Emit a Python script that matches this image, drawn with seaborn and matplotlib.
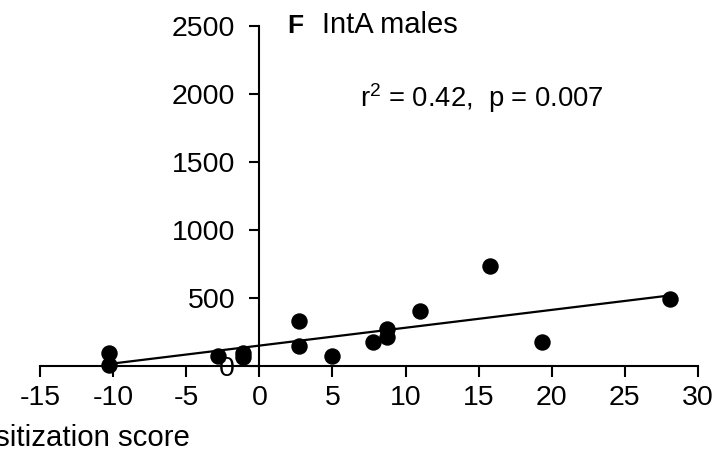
import matplotlib
matplotlib.use("Agg")
import matplotlib.pyplot as plt
import seaborn as sns
import pandas as pd

sens_score = [-10.3, -10.3, -2.8, -1.1, -1.1, 2.7, 2.7, 5.0, 7.8, 8.7, 8.7, 11.0, 15.8, 19.3, 28.1]
response = [95, 10, 75, 95, 65, 330, 145, 75, 175, 270, 215, 405, 735, 175, 490]
x_ticks = [-15, -10, -5, 0, 5, 10, 15, 20, 25, 30]
y_ticks = [0, 500, 1000, 1500, 2000, 2500]
title_letter = "F"
title_text = "IntA males"
stats_text = r"r$^2$ = 0.42,  p = 0.007"
x_label = "Sensitization score"

df = pd.DataFrame({"x": sens_score, "y": response})

sns.set_style("ticks")
plt.rcParams["font.family"] = ["Liberation Sans", "DejaVu Sans"]
plt.rcParams["mathtext.fontset"] = "custom"
plt.rcParams["mathtext.rm"] = "Liberation Sans"
plt.rcParams["text.color"] = "black"

fig = plt.figure(figsize=(7.16, 4.53), dpi=100)
ax = fig.add_axes([40 / 716, 87 / 453, 658 / 716, 340 / 453])

sns.regplot(data=df, x="x", y="y", ax=ax, ci=None, truncate=True,
            color="black",
            scatter_kws={"s": 140, "clip_on": False, "zorder": 3, "linewidths": 0, "alpha": 1},
            line_kws={"lw": 1.6, "color": "black"})

ax.set_xlim(-15, 30)
ax.set_ylim(0, 2500)
ax.set_xticks(x_ticks)
ax.set_yticks(y_ticks)
ax.set_xticklabels([str(t) for t in x_ticks])
ax.set_yticklabels([str(t) for t in y_ticks])
ax.set_xlabel("")
ax.set_ylabel("")

ax.spines["top"].set_visible(False)
ax.spines["right"].set_visible(False)
ax.spines["left"].set_position(("data", 0))
ax.spines["bottom"].set_position(("data", 0))
for s in ["left", "bottom"]:
    ax.spines[s].set_linewidth(1.5)
    ax.spines[s].set_color("black")

ax.tick_params(axis="x", direction="out", length=8, width=1.5, pad=6, labelsize=20.5,
               color="black", labelcolor="black")
ax.tick_params(axis="y", direction="out", length=7.5, width=1.5, pad=10, labelsize=20.5,
               color="black", labelcolor="black")

fig.text(287 / 716, 1 - 33 / 453, title_letter, fontsize=19, fontweight="bold",
         va="baseline", ha="left", color="black")
fig.text(322 / 716, 1 - 33 / 453, title_text, fontsize=21, va="baseline", ha="left", color="black")
fig.text(360 / 716, 1 - 107 / 453, stats_text, fontsize=19.7, va="baseline", ha="left", color="black")
fig.text(190 / 716, 7 / 453, x_label, fontsize=21.2, va="baseline", ha="right", color="black")

fig.savefig("out.png", dpi=100)
